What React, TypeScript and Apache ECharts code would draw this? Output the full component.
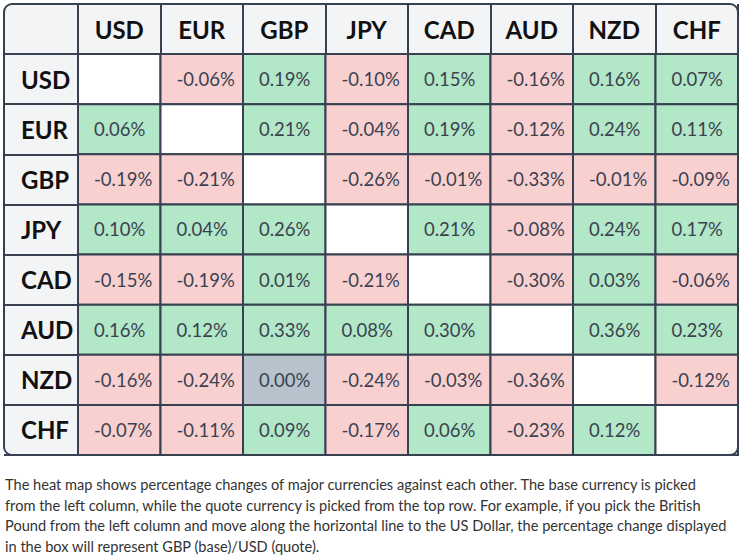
import React, { useEffect, useRef } from "react";
import * as echarts from "echarts";

const currencies = ["USD", "EUR", "GBP", "JPY", "CAD", "AUD", "NZD", "CHF"];

// rows = base currency, columns = quote currency (null = same currency)
const usdRow = [null, -0.06, 0.19, -0.1, 0.15, -0.16, 0.16, 0.07];
const eurRow = [0.06, null, 0.21, -0.04, 0.19, -0.12, 0.24, 0.11];
const gbpRow = [-0.19, -0.21, null, -0.26, -0.01, -0.33, -0.01, -0.09];
const jpyRow = [0.1, 0.04, 0.26, null, 0.21, -0.08, 0.24, 0.17];
const cadRow = [-0.15, -0.19, 0.01, -0.21, null, -0.3, 0.03, -0.06];
const audRow = [0.16, 0.12, 0.33, 0.08, 0.3, null, 0.36, 0.23];
const nzdRow = [-0.16, -0.24, 0.0, -0.24, -0.03, -0.36, null, -0.12];
const chfRow = [-0.07, -0.11, 0.09, -0.17, 0.06, -0.23, 0.12, null];

const rows = [usdRow, eurRow, gbpRow, jpyRow, cadRow, audRow, nzdRow, chfRow];

const caption =
  "The heat map shows percentage changes of major currencies against each other. The base currency is picked\n" +
  "from the left column, while the quote currency is picked from the top row. For example, if you pick the British\n" +
  "Pound from the left column and move along the horizontal line to the US Dollar, the percentage change displayed\n" +
  "in the box will represent GBP (base)/USD (quote).";

const BORDER = "#374151";
const FONT = "Lato, 'Open Sans', sans-serif";

export default function App() {
  const ref = useRef<HTMLDivElement>(null);

  useEffect(() => {
    document.body.style.margin = "0";
    if (!ref.current) return;
    const chart = echarts.init(ref.current, null, { renderer: "svg" });

    const cells: any[] = [];
    rows.forEach((r, ri) => {
      r.forEach((v, ci) => {
        cells.push([ci, ri, v]);
      });
    });

    const colorFor = (v: number | null) => {
      if (v === null || v === undefined) return "#ffffff";
      if (v > 0) return "#b2e7c8";
      if (v < 0) return "#f9d0d0";
      return "#b8c2cd";
    };

    chart.setOption({
      animation: false,
      grid: { left: 78, top: 54, right: 2, bottom: 103 },
      xAxis: {
        type: "category",
        data: currencies,
        position: "top",
        axisLine: { show: true, lineStyle: { color: BORDER, width: 2 } },
        axisTick: { show: true, length: 50, lineStyle: { color: BORDER, width: 2 } },
        splitLine: { show: false },
        axisLabel: {
          interval: 0,
          margin: 25,
          verticalAlign: "middle",
          fontFamily: FONT,
          fontWeight: "bold",
          fontSize: 24,
          color: "#111111",
        },
      },
      yAxis: {
        type: "category",
        data: currencies,
        inverse: true,
        axisLine: { show: true, lineStyle: { color: BORDER, width: 2 } },
        axisTick: { show: true, length: 74, lineStyle: { color: BORDER, width: 2 } },
        splitLine: { show: false },
        axisLabel: {
          interval: 0,
          margin: 57,
          align: "left",
          fontFamily: FONT,
          fontWeight: "bold",
          fontSize: 24,
          color: "#111111",
        },
      },
      graphic: [
        {
          type: "rect",
          z: -10,
          silent: true,
          shape: { x: 4, y: 4, width: 734, height: 451, r: 8 },
          style: { fill: "#f3f4f6" },
        },
        {
          type: "rect",
          z: 100,
          silent: true,
          shape: { x: 4, y: 4, width: 734, height: 451, r: 8 },
          style: { fill: "none", stroke: BORDER, lineWidth: 2 },
        },
        {
          type: "text",
          left: 5,
          top: 474,
          style: {
            text: caption,
            font: `14.6px ${FONT}`,
            lineHeight: 20.7,
            fill: "#333333",
          },
        },
      ],
      series: [
        {
          type: "custom",
          data: cells,
          renderItem: (params: any, api: any) => {
            const d = cells[params.dataIndex];
            const v = d[2] as number | null;
            const p = api.coord([api.value(0), api.value(1)]);
            const s = api.size([1, 1]);
            const x = p[0] - s[0] / 2;
            const y = p[1] - s[1] / 2;
            const children: any[] = [
              {
                type: "rect",
                shape: { x, y, width: s[0], height: s[1] },
                style: { fill: colorFor(v), stroke: BORDER, lineWidth: 2 },
              },
            ];
            if (v !== null) {
              children.push({
                type: "text",
                style: {
                  text: v.toFixed(2) + "%",
                  x: x + 16,
                  y: p[1],
                  align: "left",
                  verticalAlign: "middle",
                  font: `18.5px ${FONT}`,
                  fill: "#3a4250",
                },
              });
            }
            return { type: "group", children };
          },
        },
      ],
    });

    return () => chart.dispose();
  }, []);

  return <div ref={ref} style={{ width: 740, height: 558 }} />;
}
